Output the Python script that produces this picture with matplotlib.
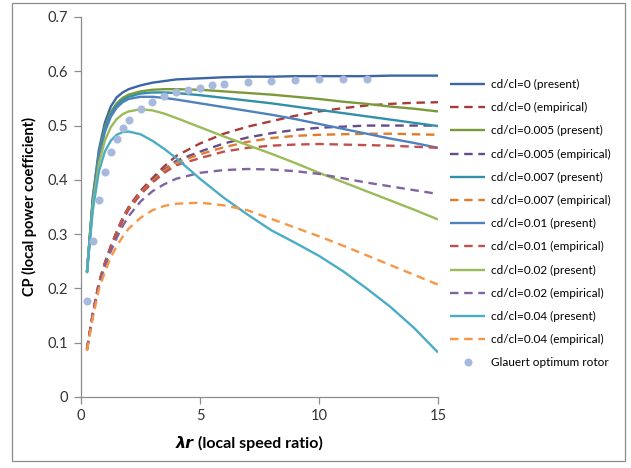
import matplotlib
matplotlib.use("Agg")
import matplotlib.pyplot as plt
from matplotlib.patches import Rectangle
from matplotlib.offsetbox import TextArea, HPacker, AnchoredOffsetbox

plt.rcParams['font.family'] = ['Lato', 'DejaVu Sans']

# local speed ratio grid (shared by all computed curves)
lam = [0.25, 0.5, 0.75, 1, 1.25, 1.5, 1.75, 2, 2.5, 3, 3.5, 4,
       5, 6, 7, 8, 9, 10, 11, 12, 13, 14, 15]

# present method
cp_0_present = [0.23, 0.37, 0.455, 0.505, 0.535, 0.552, 0.561, 0.567, 0.574, 0.579, 0.582, 0.585,
                0.587, 0.589, 0.59, 0.59, 0.591, 0.591, 0.591, 0.591, 0.592, 0.592, 0.592]
cp_005_present = [0.23, 0.365, 0.448, 0.497, 0.525, 0.541, 0.551, 0.557, 0.563, 0.566, 0.567, 0.567,
                  0.566, 0.563, 0.56, 0.557, 0.553, 0.549, 0.544, 0.54, 0.535, 0.531, 0.526]
cp_007_present = [0.23, 0.363, 0.445, 0.493, 0.521, 0.537, 0.547, 0.553, 0.559, 0.561, 0.561, 0.56,
                  0.556, 0.551, 0.546, 0.541, 0.535, 0.529, 0.523, 0.517, 0.511, 0.505, 0.499]
cp_01_present = [0.23, 0.36, 0.44, 0.488, 0.516, 0.533, 0.543, 0.549, 0.553, 0.553, 0.551, 0.548,
                 0.541, 0.534, 0.527, 0.52, 0.512, 0.503, 0.494, 0.485, 0.476, 0.468, 0.459]
cp_02_present = [0.23, 0.355, 0.43, 0.472, 0.497, 0.512, 0.521, 0.526, 0.53, 0.528, 0.522, 0.514,
                 0.497, 0.48, 0.464, 0.448, 0.431, 0.413, 0.396, 0.379, 0.362, 0.345, 0.327]
cp_04_present = [0.228, 0.345, 0.415, 0.452, 0.472, 0.483, 0.488, 0.489, 0.484, 0.472, 0.457, 0.44,
                 0.402, 0.367, 0.336, 0.307, 0.284, 0.26, 0.232, 0.2, 0.166, 0.127, 0.082]

# empirical formula
cp_0_emp = [0.088, 0.155, 0.21, 0.247, 0.278, 0.305, 0.33, 0.35, 0.38, 0.403, 0.425, 0.444,
            0.467, 0.485, 0.498, 0.508, 0.518, 0.526, 0.532, 0.537, 0.54, 0.542, 0.543]
cp_005_emp = [0.088, 0.155, 0.21, 0.246, 0.277, 0.304, 0.328, 0.348, 0.378, 0.4, 0.419, 0.435,
              0.452, 0.467, 0.478, 0.486, 0.492, 0.496, 0.498, 0.5, 0.5, 0.5, 0.5]
cp_007_emp = [0.088, 0.154, 0.209, 0.245, 0.276, 0.303, 0.327, 0.347, 0.376, 0.398, 0.417, 0.432,
              0.447, 0.46, 0.47, 0.477, 0.481, 0.483, 0.484, 0.485, 0.485, 0.484, 0.483]
cp_01_emp = [0.087, 0.153, 0.208, 0.244, 0.275, 0.301, 0.325, 0.345, 0.373, 0.395, 0.413, 0.427,
             0.44, 0.452, 0.459, 0.463, 0.465, 0.466, 0.465, 0.464, 0.463, 0.461, 0.459]
cp_02_emp = [0.087, 0.151, 0.204, 0.239, 0.268, 0.293, 0.315, 0.333, 0.36, 0.379, 0.392, 0.402,
             0.413, 0.418, 0.42, 0.419, 0.416, 0.411, 0.403, 0.395, 0.388, 0.381, 0.374]
cp_04_emp = [0.085, 0.147, 0.198, 0.23, 0.257, 0.278, 0.295, 0.31, 0.33, 0.344, 0.352, 0.356,
             0.358, 0.353, 0.344, 0.328, 0.312, 0.296, 0.279, 0.261, 0.243, 0.225, 0.207]

# Glauert optimum rotor
glauert_lam = [0.25, 0.5, 0.75, 1, 1.25, 1.5, 1.75, 2, 2.5, 3, 3.5, 4, 4.5, 5, 5.5, 6,
               7, 8, 9, 10, 11, 12]
glauert_cp = [0.176, 0.288, 0.363, 0.415, 0.451, 0.475, 0.495, 0.511, 0.531, 0.544, 0.554, 0.561,
              0.566, 0.570, 0.574, 0.576, 0.580, 0.582, 0.584, 0.585, 0.586, 0.586]

series = [
    ('cd/cl=0 (present)', cp_0_present, '#3B65A3', '-'),
    ('cd/cl=0 (empirical)', cp_0_emp, '#A83B3A', '--'),
    ('cd/cl=0.005 (present)', cp_005_present, '#7A9A3A', '-'),
    ('cd/cl=0.005 (empirical)', cp_005_emp, '#654B8C', '--'),
    ('cd/cl=0.007 (present)', cp_007_present, '#3190A8', '-'),
    ('cd/cl=0.007 (empirical)', cp_007_emp, '#E07B2A', '--'),
    ('cd/cl=0.01 (present)', cp_01_present, '#4F81BD', '-'),
    ('cd/cl=0.01 (empirical)', cp_01_emp, '#C0504D', '--'),
    ('cd/cl=0.02 (present)', cp_02_present, '#9BBB59', '-'),
    ('cd/cl=0.02 (empirical)', cp_02_emp, '#8064A2', '--'),
    ('cd/cl=0.04 (present)', cp_04_present, '#4BACC6', '-'),
    ('cd/cl=0.04 (empirical)', cp_04_emp, '#F79646', '--'),
]

fig = plt.figure(figsize=(6.31, 4.68), dpi=100)
ax = fig.add_axes([81 / 631, 71 / 468, 357 / 631, 380 / 468])

for label, vals, color, ls in series:
    line, = ax.plot(lam, vals, color=color, lw=1.7, ls=ls, label=label,
                    solid_capstyle='butt', dash_capstyle='butt')
    if ls == '--':
        line.set_dashes((3.6, 2.4))
ax.plot(glauert_lam, glauert_cp, 'o', color='#A7B9DC', ms=5.8, mec='none',
        label='Glauert optimum rotor')

ax.set_xlim(0, 15)
ax.set_ylim(0, 0.7)
ax.set_xticks([0, 5, 10, 15])
ax.set_yticks([0, 0.1, 0.2, 0.3, 0.4, 0.5, 0.6, 0.7])
ax.set_yticklabels(['0', '0.1', '0.2', '0.3', '0.4', '0.5', '0.6', '0.7'])
for s in ['top', 'right']:
    ax.spines[s].set_visible(False)
for s in ['left', 'bottom']:
    ax.spines[s].set_color('#8C8C8C')
    ax.spines[s].set_linewidth(0.9)
ax.tick_params(direction='out', length=5, width=0.9, color='#8C8C8C',
               labelsize=10.5, labelcolor='#333333', pad=4)

ax.set_ylabel('CP (local power coefficient)', fontsize=10.5, fontweight='bold', labelpad=8)

# x label with bold italic lambda r
t1 = TextArea('λr', textprops=dict(fontsize=11.5, fontweight='bold', fontstyle='italic',
                                   family=['DejaVu Sans']))
t2 = TextArea(' (local speed ratio)', textprops=dict(fontsize=11.5, fontweight='bold'))
box = HPacker(children=[t1, t2], align='baseline', pad=0, sep=0)
anchored = AnchoredOffsetbox(loc='center', child=box, frameon=False,
                             bbox_to_anchor=(249 / 631, 1 - 443 / 468),
                             bbox_transform=fig.transFigure, borderpad=0, pad=0)
fig.add_artist(anchored)

fig.legend(loc='upper left', bbox_to_anchor=(450 / 631, 1 - 79 / 468), frameon=False,
           fontsize=8.5, handlelength=3.0, handletextpad=0.45, labelspacing=1.03,
           borderpad=0, borderaxespad=0)

fig.patches.append(Rectangle((12 / 631, 1 - 461 / 468), 613 / 631, 458 / 468,
                             transform=fig.transFigure, fill=False,
                             edgecolor='#8C8C8C', lw=0.9))

fig.savefig('out.png', dpi=100)
